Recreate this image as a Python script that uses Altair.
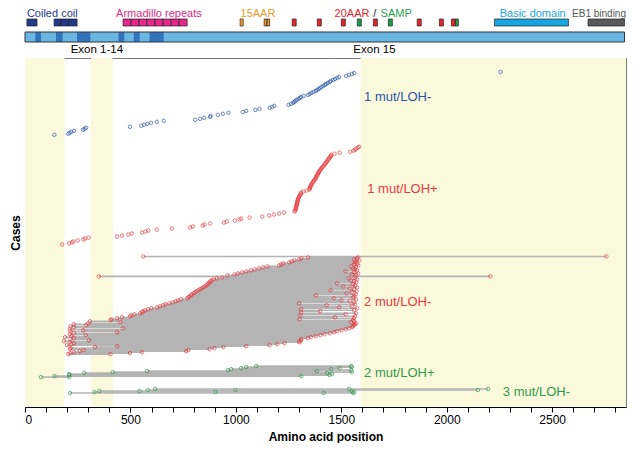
import altair as alt
import pandas as pd

# ---------------- values (amino-acid positions) ----------------
one_mut_loh_minus = [139, 205, 212, 220, 233, 275, 282, 290, 498, 551, 565, 580, 598, 625, 658,
                     807, 831, 850, 878, 880, 914, 938, 965, 1033, 1049, 1092, 1112, 1160, 1172,
                     1183, 1250, 1262, 1272, 1277, 1282, 1288, 1297, 1304, 1309, 1322, 1343, 1350,
                     1359, 1368, 1379, 1386, 1393, 1400, 1406, 1415, 1422, 1428, 1436, 1445, 1450,
                     1461, 1470, 1481, 1490, 1523, 1536, 1550, 1561, 2255]

one_mut_loh_plus = [176, 209, 223, 229, 250, 277, 285, 302, 437, 460, 490, 506, 555,
                    571, 585, 625, 696, 783, 796, 843, 851, 878, 943, 957, 995, 1017,
                    1025, 1065, 1125, 1158, 1180, 1205, 1229, 1278,
                    1282, 1283, 1284, 1285, 1286, 1288, 1289, 1290, 1291, 1292, 1293, 1294, 1296,
                    1298, 1300, 1303, 1306, 1309, 1309,
                    1320, 1335, 1348,
                    1350, 1352, 1353, 1355, 1358, 1360, 1364, 1367, 1370, 1374, 1378, 1379, 1381,
                    1384, 1386, 1390, 1392, 1394, 1398, 1401, 1405, 1408, 1412, 1416, 1420, 1424,
                    1427, 1431, 1435, 1438, 1440, 1444, 1450, 1450, 1452,
                    1468, 1492, 1542, 1558, 1565, 1571, 1578, 1584]

two_mut_loh_minus_first = [205, 215, 232, 259, 278, 213, 216, 332, 437, 199, 220, 232, 213, 185, 303,
                           216, 232, 190, 220, 288, 213, 232, 437, 216, 276, 213, 465, 232, 216, 290,
                           232, 300, 452, 308,
                           405, 410, 437, 460, 498, 505, 519, 546, 555, 560, 570, 584, 600, 627, 640,
                           656, 666, 685, 701, 715, 725,
                           740, 769, 775, 780, 788, 790, 800, 805, 812, 821, 830, 838, 845, 852, 860,
                           866, 870, 875, 880, 883,
                           895, 910, 935, 350, 960, 993, 1010, 1030, 1050, 1072, 1090, 1111, 1130,
                           1150, 1205, 1215, 1225, 1253, 1265, 1277, 1300, 1310, 1342, 561]
two_mut_loh_minus_second = [405, 498, 555, 764, 774, 875, 898, 941, 1049, 1160, 1196, 1230, 1300, 1305,
                            1309, 1310, 1340, 1355, 1378, 1400, 1420, 1445, 1465, 1480, 1500, 1520,
                            1535, 1550, 1555, 1560, 1565, 1570, 1545, 1560,
                            1555, 1302, 1560, 1470, 1565, 1306, 1520, 1570, 1309, 1400, 1560, 1310,
                            1575, 1490, 1550, 1430, 1565, 1300, 1560, 1540, 1500,
                            1570, 1465, 1555, 1562, 1380, 1568, 1525, 1550, 1572, 1450, 1560, 1540,
                            1575, 1510, 1565, 1555, 1480, 1570, 1560, 1545,
                            1575, 1535, 1565, 2207, 1570, 1550, 1580, 1560, 1520, 1575, 1565, 1555,
                            1570, 1545, 1580, 1560, 1575, 1565, 1570, 1585, 1560, 1575, 1580, 2757]

two_mut_loh_plus_first = [76, 139, 210, 210, 281, 416, 579, 962, 978, 1025, 1049, 1096]
two_mut_loh_plus_second = [210, 1310, 1444, 1456, 1433, 1550, 1384, 1547, 1452, 1492, 1550, 1547]

three_mut_first = [213, 329, 353, 582, 617]
three_mut_second = [1416, 903, 543, 998, 1537]
three_mut_third = [1556, 1561, 1550, 2148, 2196]

group_names = ["3 mut/LOH-", "2 mut/LOH+", "2 mut/LOH-", "1 mut/LOH+", "1 mut/LOH-"]

shaded_start = [0, 313, 1591]
shaded_end = [187, 416, 2850]

# protein domains (top track)
dom_start = [9, 138, 171, 209,
             465, 503, 541, 579, 617, 655, 693, 731,
             1020, 1134, 1148,
             1267, 1386, 1500, 1652, 1860, 1965, 2022,
             1576, 1723, 2041,
             2226, 2670]
dom_end = [57, 171, 209, 247,
           503, 541, 579, 617, 655, 693, 731, 769,
           1035, 1146, 1160,
           1286, 1405, 1519, 1671, 1879, 1984, 2041,
           1595, 1742, 2055,
           2577, 2843]
dom_kind = ["cc"] * 4 + ["arm"] * 8 + ["15"] * 3 + ["20"] * 7 + ["samp"] * 3 + ["basic", "eb1"]

dom_label_text = ["Coiled coil", "Armadillo repeats", "15AAR", "20AAR", "/", "SAMP",
                  "Basic domain"]
dom_label_pos = [9, 432, 1022, 1468, 1652, 1686, 2251]
dom_label_kind = ["cc", "arm", "15", "20", "slash", "samp", "basic"]
eb1_label = "EB1 binding"
eb1_label_end = 2850

exon_stripe_start = [49, 147, 247, 443, 516, 590]
exon_stripe_end = [76, 179, 310, 471, 544, 658]
protein_length = 2843
exon_label_text = ["Exon 1-14", "Exon 15"]
exon_label_pos = [341, 1657]

# ---------------- styling ----------------
BLUE = "#2b55a6"
RED = "#e8383d"
GREEN = "#2f9a4c"
kind_colors = {"cc": "#26388c", "arm": "#e5268a", "15": "#f39a2a", "20": "#e8242b",
               "samp": "#1f9e4a", "basic": "#19a6e0", "eb1": "#5a5a5a", "slash": "#222222"}
label_colors = dict(kind_colors, basic="#19a6e0", eb1="#555555")
group_colors = [GREEN, GREEN, RED, RED, BLUE]
FONT = "Liberation Sans"
X_DOMAIN = [0, 2850]
W = 601

# ---------------- build case table ----------------
group_rows = [
    list(zip(three_mut_first, three_mut_second, three_mut_third)),
    list(zip(two_mut_loh_plus_first, two_mut_loh_plus_second)),
    list(zip(two_mut_loh_minus_first, two_mut_loh_minus_second)),
    [(v,) for v in one_mut_loh_plus],
    [(v,) for v in one_mut_loh_minus],
]
pts, segs = [], []
case = 14
for name, rows in zip(group_names, group_rows):
    for r in rows:
        for v in r:
            pts.append({"pos": v, "case": case, "group": name})
        if len(r) > 1:
            segs.append({"start": min(r), "end": max(r), "case": case})
        case += 1
    case += 11
pts = pd.DataFrame(pts)
segs = pd.DataFrame(segs)

label_df = pd.DataFrame({
    "text": ["1 mut/LOH-", "1 mut/LOH+", "2 mut/LOH-", "2 mut/LOH+", "3 mut/LOH-"],
    "pos": [1608, 1623, 1608, 1608, 2266],
    "case": [311, 219, 105, 34, 15],
    "color": [BLUE, RED, RED, GREEN, GREEN],
})
shade_df = pd.DataFrame({"start": shaded_start, "end": shaded_end})

xscale = alt.Scale(domain=X_DOMAIN, nice=False, zero=False)
yscale = alt.Scale(domain=[0, 350], nice=False, zero=False)
xaxis = alt.Axis(values=list(range(0, 2900, 100)), format="d",
                 labelExpr="datum.value % 500 === 0 ? datum.label : ''",
                 tickSize=5, tickColor="black", domainColor="black", grid=False,
                 labelFontSize=12, labelColor="black", labelPadding=2,
                 title="Amino acid position", titleFontSize=12, titleFontWeight="bold",
                 titlePadding=6, titleColor="black")
yaxis = alt.Axis(labels=False, ticks=False, grid=False, domainColor="black", title="Cases",
                 titleFontSize=12, titleFontWeight="bold", titlePadding=3, titleColor="black")

shade = alt.Chart(shade_df).mark_rect(fill="#fbf9dc").encode(
    x=alt.X("start:Q", scale=xscale, axis=xaxis),
    x2="end:Q",
    y=alt.value(0), y2=alt.value(349),
)
rules = alt.Chart(segs).mark_rule(color="#b4b4b4", strokeWidth=1.6).encode(
    x=alt.X("start:Q", scale=xscale, axis=xaxis),
    x2="end:Q",
    y=alt.Y("case:Q", scale=yscale, axis=yaxis),
)
points = alt.Chart(pts).mark_point(shape="circle", filled=False, size=12, strokeWidth=1).encode(
    x=alt.X("pos:Q", scale=xscale, axis=xaxis),
    y=alt.Y("case:Q", scale=yscale, axis=yaxis),
    color=alt.Color("group:N", scale=alt.Scale(domain=group_names, range=group_colors), legend=None),
)
labels = alt.Chart(label_df).mark_text(align="left", baseline="middle", fontSize=13, font=FONT).encode(
    x=alt.X("pos:Q", scale=xscale, axis=xaxis),
    y=alt.Y("case:Q", scale=yscale, axis=yaxis),
    text="text:N",
    color=alt.Color("color:N", scale=None),
)
main = alt.layer(shade, rules, points, labels).properties(width=W, height=349)

# ---------------- top domain track ----------------
dom_df = pd.DataFrame({"start": dom_start, "end": dom_end,
                       "color": [kind_colors[k] for k in dom_kind]})
dlab_df = pd.DataFrame({"pos": dom_label_pos, "text": dom_label_text,
                        "color": [label_colors[k] for k in dom_label_kind]})
eb1_df = pd.DataFrame({"pos": [eb1_label_end], "text": [eb1_label]})
bar_df = pd.DataFrame({"start": [0], "end": [protein_length]})
stripe_df = pd.DataFrame({"start": exon_stripe_start, "end": exon_stripe_end})
exon_df = pd.DataFrame({"pos": exon_label_pos, "text": exon_label_text})

tx = alt.X("start:Q", scale=xscale, axis=None)
bar = alt.Chart(bar_df).mark_rect(fill="#6bb5e3").encode(
    x=tx, x2="end:Q", y=alt.value(24), y2=alt.value(34))
stripes = alt.Chart(stripe_df).mark_rect(fill="#3474bd").encode(
    x=tx, x2="end:Q", y=alt.value(24), y2=alt.value(34))
bar_outline = alt.Chart(bar_df).mark_rect(fill=None, stroke="#333333", strokeWidth=1).encode(
    x=tx, x2="end:Q", y=alt.value(24), y2=alt.value(34))
boxes = alt.Chart(dom_df).mark_rect(stroke="#222222", strokeWidth=0.7).encode(
    x=tx, x2="end:Q", y=alt.value(11), y2=alt.value(18),
    fill=alt.Fill("color:N", scale=None))
dlabels = alt.Chart(dlab_df).mark_text(align="left", baseline="middle", fontSize=11, font=FONT).encode(
    x=alt.X("pos:Q", scale=xscale, axis=None), y=alt.value(6),
    text="text:N", color=alt.Color("color:N", scale=None))
eb1_text = alt.Chart(eb1_df).mark_text(align="right", baseline="middle", fontSize=10, font=FONT,
                                       color="#555555").encode(
    x=alt.X("pos:Q", scale=xscale, axis=None), y=alt.value(6), text="text:N")
elabels = alt.Chart(exon_df).mark_text(align="center", baseline="middle", fontSize=11.5,
                                       font=FONT, color="black").encode(
    x=alt.X("pos:Q", scale=xscale, axis=None), y=alt.value(42), text="text:N")
top = alt.layer(bar, stripes, bar_outline, boxes, dlabels, eb1_text, elabels).properties(
    width=W, height=50, view=alt.ViewBackground(stroke=None))

chart = alt.vconcat(top, main, spacing=0, bounds="flush").properties(
    padding={"left": 0, "top": 0, "right": 0, "bottom": 0}
).configure(font=FONT).configure_view(stroke="#7a7a7a", strokeWidth=1)

chart.save("out.html", embed_options={"renderer": "svg", "actions": False})
